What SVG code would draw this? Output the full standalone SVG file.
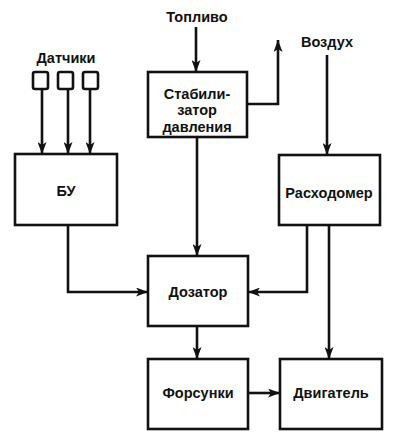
<svg xmlns="http://www.w3.org/2000/svg" width="400" height="438" viewBox="0 0 400 438">
<defs>
<marker id="ah" viewBox="0 0 12 9" refX="12" refY="4.5" markerWidth="12" markerHeight="9" markerUnits="userSpaceOnUse" orient="auto">
<path d="M0,0 L12,4.5 L0,9 L3,4.5 Z" fill="#111"/>
</marker>
</defs>
<style>
.box{fill:#fff;stroke:#111;stroke-width:2.6}
.ln{fill:none;stroke:#111;stroke-width:2.6;marker-end:url(#ah)}
text{font-family:"Liberation Sans","DejaVu Sans",sans-serif;font-weight:bold;font-size:14.5px;fill:#111;text-anchor:middle}
</style>
<rect width="400" height="438" fill="#fff"/>
<text x="197" y="22">Топливо</text>
<text x="327" y="47">Воздух</text>
<text x="66" y="63">Датчики</text>
<g id="sensor1"><rect class="box" x="33" y="72" width="15" height="17" rx="2"/></g>
<g id="sensor2"><rect class="box" x="58" y="72" width="15" height="17" rx="2"/></g>
<g id="sensor3"><rect class="box" x="83" y="72" width="15" height="17" rx="2"/></g>
<g id="bu"><rect class="box" x="15" y="154" width="102" height="71"/><text x="66" y="196">БУ</text></g>
<g id="stab"><rect class="box" x="148" y="72" width="99" height="65"/>
<text x="197" y="99">Стабили-</text><text x="197" y="115">затор</text><text x="197" y="132">давления</text></g>
<g id="rash"><rect class="box" x="279" y="155" width="101" height="70"/><text x="329" y="198">Расходомер</text></g>
<g id="doz"><rect class="box" x="148" y="256" width="100" height="70"/><text x="198" y="297">Дозатор</text></g>
<g id="fors"><rect class="box" x="148" y="359" width="100" height="70"/><text x="198" y="398">Форсунки</text></g>
<g id="dvig"><rect class="box" x="280" y="359" width="102" height="70"/><text x="331" y="398">Двигатель</text></g>
<g id="connectors">
<path class="ln" d="M42,89 V154"/>
<path class="ln" d="M68,89 V154"/>
<path class="ln" d="M90,89 V154"/>
<path class="ln" d="M196,27 V72"/>
<path class="ln" d="M247,104 H278 V40"/>
<path class="ln" d="M327,55 V155"/>
<path class="ln" d="M197,137 V256"/>
<path class="ln" d="M68,225 V292 H148"/>
<path class="ln" d="M307,225 V292 H248"/>
<path class="ln" d="M329,225 V359"/>
<path class="ln" d="M197,326 V359"/>
<path class="ln" d="M248,393 H280"/>
</g>
</svg>
